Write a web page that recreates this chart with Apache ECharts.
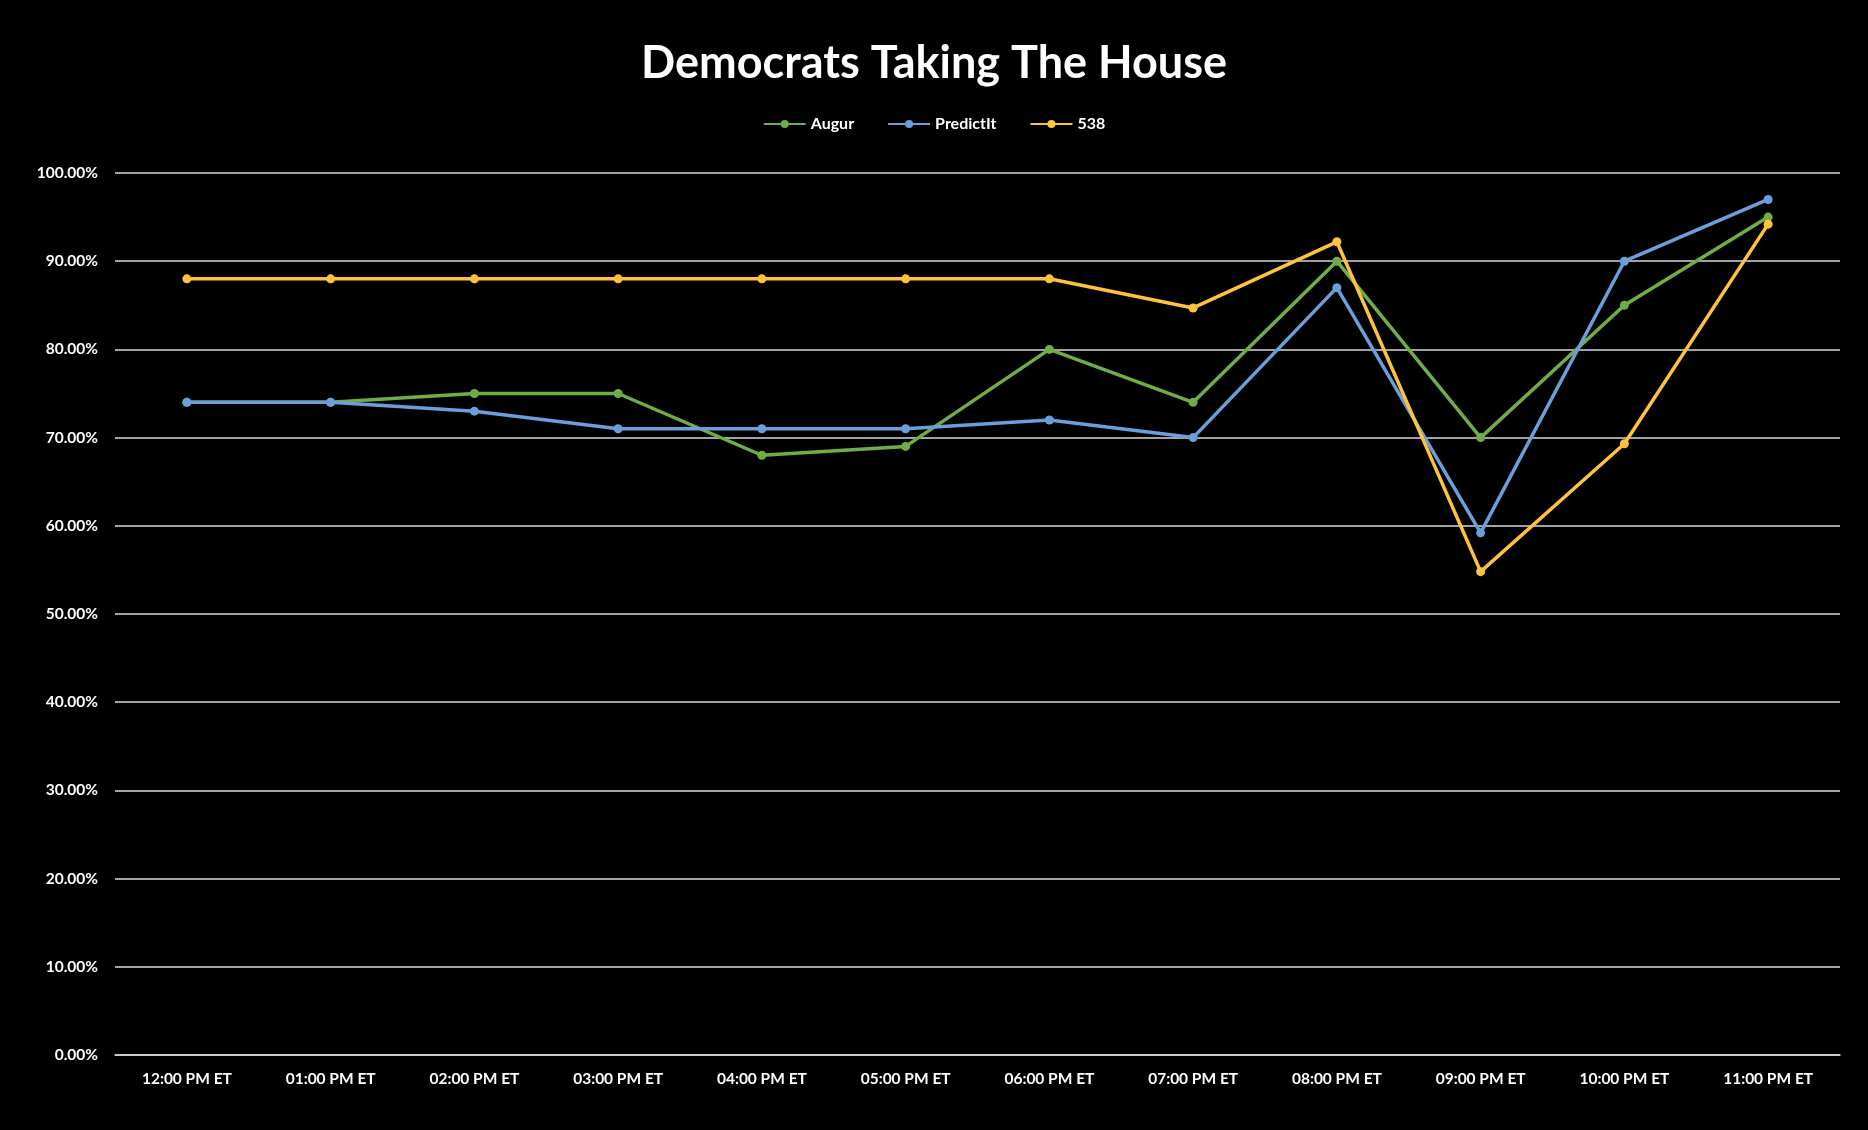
<!DOCTYPE html>
<html>
<head>
<meta charset="utf-8">
<script src="https://cdn.jsdelivr.net/npm/echarts@6/dist/echarts.min.js"></script>
<style>
html,body{margin:0;padding:0;background:#000;}
#c{width:1868px;height:1130px;}
</style>
</head>
<body>
<div id="c"></div>
<script>
const categories = ['12:00 PM ET','01:00 PM ET','02:00 PM ET','03:00 PM ET','04:00 PM ET','05:00 PM ET','06:00 PM ET','07:00 PM ET','08:00 PM ET','09:00 PM ET','10:00 PM ET','11:00 PM ET'];
const augur = [74, 74, 75, 75, 68, 69, 80, 74, 90, 70, 85, 95];
const predictit = [74, 74, 73, 71, 71, 71, 72, 70, 87, 59.2, 90, 97];
const fiveThirtyEight = [88, 88, 88, 88, 88, 88, 88, 84.7, 92.2, 54.8, 69.3, 94.2];

const font = 'Lato, "Open Sans", sans-serif';
const chart = echarts.init(document.getElementById('c'));
function mk(name, data, color){
  return {name, type:'line', data, symbol:'circle', symbolSize:9,
    lineStyle:{color, width:3.5}, itemStyle:{color}};
}
chart.setOption({
  backgroundColor:'#000',
  animation:false,
  title:{text:'Democrats Taking The House', left:'center', top:36,
    textStyle:{color:'#fff', fontFamily:font, fontWeight:'bold', fontSize:45}},
  legend:{top:111, left:'center', itemWidth:42, itemHeight:10, itemGap:33,
    textStyle:{color:'#fff', fontFamily:font, fontSize:16, fontWeight:'bold'},
    data:['Augur','PredictIt','538']},
  grid:{left:115, right:28, top:173, bottom:75},
  xAxis:{type:'category', data:categories, boundaryGap:true,
    axisLine:{show:true, lineStyle:{color:'#d9d9d9', width:1.5}},
    axisTick:{show:false},
    axisLabel:{color:'#fff', fontFamily:font, fontSize:15.5, margin:16, fontWeight:'bold'}},
  yAxis:{type:'value', min:0, max:100, interval:10,
    axisLine:{show:false}, axisTick:{show:false},
    splitLine:{lineStyle:{color:'#d9d9d9', width:1.5}},
    axisLabel:{color:'#fff', fontFamily:font, fontSize:15.5, margin:17, fontWeight:'bold',
      formatter:v=>v.toFixed(2)+'%'}},
  series:[
    mk('Augur', augur, '#70AD47'),
    mk('PredictIt', predictit, '#6A9FDB'),
    mk('538', fiveThirtyEight, '#FFC23C')
  ]
});
</script>
</body>
</html>
